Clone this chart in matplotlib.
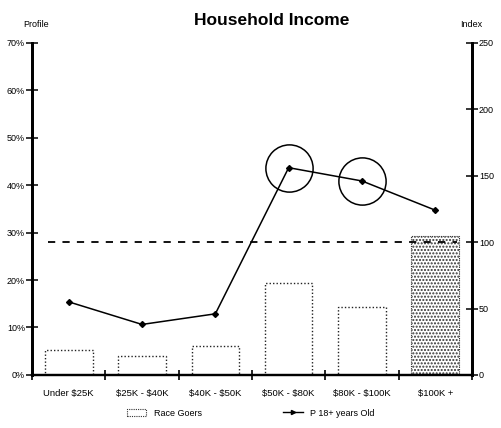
#!/usr/bin/env python3
import numpy as np
import matplotlib.pyplot as plt
from matplotlib.patches import Patch
from matplotlib.lines import Line2D

plt.rc('font', family=['Liberation Sans', 'DejaVu Sans'])

categories = ['Under \\$25K', '\\$25K - \\$40K', '\\$40K - \\$50K',
              '\\$50K - \\$80K', '\\$80K - \\$100K', '\\$100K +']
profile_pct = [5.2, 4.0, 6.0, 19.4, 14.3, 29.3]      # Race Goers, left axis
index_values = [55, 38, 46, 156, 146, 124]           # P 18+ years Old, right axis
highlighted = [3, 4]                                 # circled points
baseline_index = 100

left_ticks = [0, 10, 20, 30, 40, 50, 60, 70]
right_ticks = [0, 50, 100, 150, 200, 250]


def plot_income():
    fig = plt.figure(figsize=(5.01, 4.28), dpi=100)
    ax = fig.add_axes([0.064, 0.124, 0.878, 0.776])
    ax2 = ax.twinx()

    x = np.arange(len(categories))

    # outline bars for the first groups, stippled bar for the top bracket
    for i, v in enumerate(profile_pct):
        if i < len(profile_pct) - 1:
            ax.bar(x[i], v, width=0.65, facecolor='white', edgecolor='#222222',
                   linewidth=1.0, linestyle=(0, (1, 1.5)), zorder=2)
        else:
            ax.bar(x[i], v, width=0.65, facecolor='white', edgecolor='#333333',
                   linewidth=0.8, linestyle=(0, (1, 1)), hatch='.....', zorder=2)

    ax2.hlines(baseline_index, -0.28, 5.3, colors='black', linestyles=(0, (4, 4)),
               linewidth=1.3, zorder=3)
    ax2.plot(x, index_values, color='black', linewidth=1.1, marker='D',
             markersize=3, zorder=4)
    ax2.plot(x[highlighted], [index_values[i] for i in highlighted], linestyle='none',
             marker='o', markersize=34, markerfacecolor='none',
             markeredgecolor='black', markeredgewidth=1.1, zorder=5)

    ax.set_xlim(-0.5, len(categories) - 0.5)
    ax.set_ylim(0, 70)
    ax2.set_ylim(0, 250)

    ax.set_yticks(left_ticks)
    ax.set_yticklabels([f'{t}%' for t in left_ticks])
    ax2.set_yticks(right_ticks)
    ax2.set_yticklabels([str(t) for t in right_ticks])

    ax.set_xticks(x)
    ax.set_xticklabels(categories)
    ax.set_xticks(np.arange(len(categories) + 1) - 0.5, minor=True)
    ax.tick_params(axis='x', which='major', length=0, pad=10, labelsize=6.8)
    ax.tick_params(axis='x', which='minor', direction='inout', length=7, width=1.2)
    ax.tick_params(axis='y', direction='inout', length=8, width=1.1, labelsize=6.5, pad=1)
    ax2.tick_params(axis='y', direction='inout', length=8, width=1.1, labelsize=6.5, pad=1)
    ax2.set_yticks(np.arange(0, 251, 10), minor=True)
    ax2.tick_params(axis='y', which='minor', direction='inout', length=2, width=0.6)

    for a in (ax, ax2):
        a.spines['top'].set_visible(False)
        a.spines['left'].set_linewidth(2.0)
        a.spines['right'].set_linewidth(2.0)
        a.spines['bottom'].set_linewidth(1.6)

    fig.text(0.543, 0.953, 'Household Income', ha='center', va='center',
             fontsize=12.5, fontweight='bold')
    fig.text(0.046, 0.942, 'Profile', ha='left', va='center', fontsize=6.5)
    fig.text(0.918, 0.942, 'Index', ha='left', va='center', fontsize=6.5)

    handles = [
        Patch(facecolor='white', edgecolor='#333333', linestyle=(0, (1, 1)),
              linewidth=0.8, label='Race Goers'),
        Line2D([], [], color='black', linewidth=1.0, marker='>', markersize=3,
               label='P 18+ years Old'),
    ]
    fig.legend(handles=handles, loc='center', bbox_to_anchor=(0.5, 0.035), ncol=2,
               frameon=False, fontsize=6.5, columnspacing=9, handlelength=2.2,
               handleheight=0.8)

    return fig


def main():
    fig = plot_income()
    fig.savefig('out.png', dpi=100)


if __name__ == '__main__':
    main()
